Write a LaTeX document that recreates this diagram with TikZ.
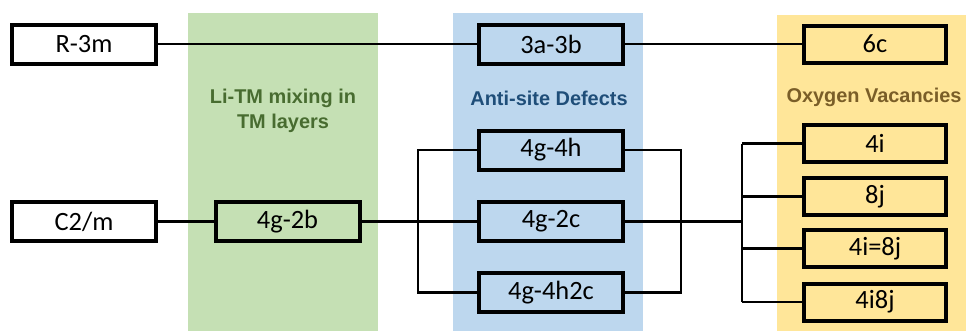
\documentclass[tikz,border=0pt]{standalone}
\usepackage{fontspec}
\setmainfont{Carlito}
\newfontfamily\labelfont{Liberation Sans}
\definecolor{bandgreen}{RGB}{197,224,180}
\definecolor{bandblue}{RGB}{189,215,238}
\definecolor{bandyellow}{RGB}{255,230,153}
\definecolor{textgreen}{RGB}{72,108,48}
\definecolor{textblue}{RGB}{31,78,121}
\definecolor{textyellow}{RGB}{122,94,40}
\begin{document}
\begin{tikzpicture}[x=1bp, y=-1bp,
    sitebox/.style={draw=black, line width=4bp, minimum width=144bp, minimum height=39bp,
        inner sep=0pt, font=\fontsize{26.5}{30}\selectfont},
    vacbox/.style={sitebox, minimum width=142bp, minimum height=37bp},
    link/.style={line width=2.6bp},
    bandlabel/.style={font=\labelfont\bfseries\fontsize{20}{25}\selectfont, align=center}]

    \useasboundingbox (0,0) rectangle (966,331);

    % 背景色带
    \fill[bandgreen] (188,13) rectangle (378,331);
    \fill[bandblue] (453,13) rectangle (643,331);
    \fill[bandyellow] (777,15) rectangle (966,331);

    % 色带标题
    \node[bandlabel, text=textgreen] (lblmix) at (283,110.5) {Li-TM mixing in\\TM layers};
    \node[bandlabel, text=textblue] (lblanti) at (549,98) {Anti-site Defects};
    \node[bandlabel, text=textyellow] (lblvac) at (874,97) {Oxygen Vacancies};

    % 空间群
    \node[sitebox] (r3m) at (84,44) {R-3m};
    \node[sitebox] (c2m) at (84,221.5) {C2/m};

    % Li-TM 混排
    \node[sitebox] (g2b) at (287.5,221.5) {4g-2b};

    % 反位缺陷
    \node[sitebox] (a3b3) at (551,44) {3a-3b};
    \node[sitebox] (g4h) at (551,150) {4g-4h};
    \node[sitebox] (g2c) at (551,221.5) {4g-2c};
    \node[sitebox] (g4h2c) at (551,292.5) {4g-4h2c};

    % 氧空位
    \node[vacbox] (c6) at (875,44) {6c};
    \node[vacbox] (i4) at (875,143.5) {4i};
    \node[vacbox] (j8) at (875,196.5) {8j};
    \node[vacbox] (i4j8) at (875,248.5) {4i=8j};
    \node[vacbox] (i4jj8) at (875,302) {4i8j};

    % 分支点
    \coordinate (lbr) at (418,0);
    \coordinate (rbr) at (681,0);
    \coordinate (fan) at (742,0);

    % 连接线
    \draw[link] (r3m) -- (a3b3);
    \draw[link] (a3b3) -- (c6);
    \draw[link] (c2m) -- (g2b);
    \draw[link] (g2b) -- (g2c);
    \draw[link] (g4h.west) -- (g4h.west -| lbr) -- (g4h2c.west -| lbr) -- (g4h2c.west);
    \draw[link] (g4h.east) -- (g4h.east -| rbr) -- (g4h2c.east -| rbr) -- (g4h2c.east);
    \draw[link] (g2c.east) -- (g2c.east -| fan);
    \draw[link] (i4.west -| fan) -- (i4jj8.west -| fan);
    \foreach \b in {i4, j8, i4j8, i4jj8}
        \draw[link] (\b.west -| fan) -- (\b.west);

\end{tikzpicture}
\end{document}
